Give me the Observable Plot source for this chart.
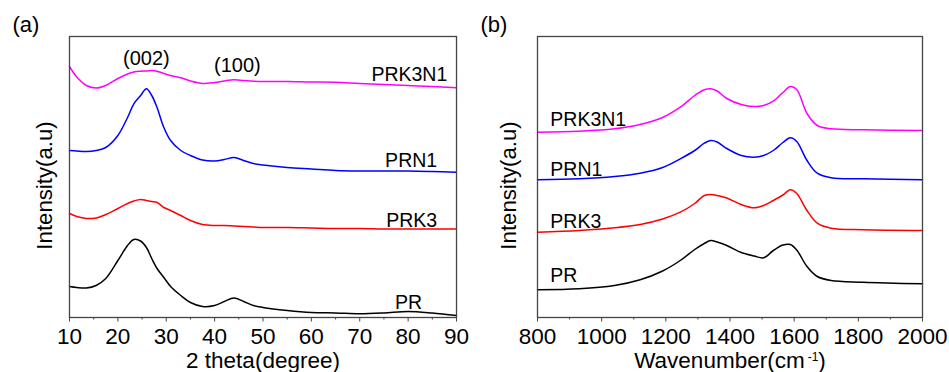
<!DOCTYPE html>
<html>
<head>
<meta charset="utf-8">
<script src="https://cdn.jsdelivr.net/npm/d3@7"></script>
<script src="https://cdn.jsdelivr.net/npm/@observablehq/plot@0.6"></script>
<style>
  body { margin: 0; background: #fff; }
  #wrap { display: flex; width: 949px; height: 372px; }
</style>
</head>
<body>
<div id="wrap"></div>
<script>
// ---- Panel (a): XRD ----
const xrdAngle = [10, 11.5, 13.5, 15.5, 17.5, 20, 22, 23.3, 24.7, 25.9, 27, 28.1, 29.5, 30.9, 33, 35, 37.5, 40, 42, 44, 46, 48, 50, 55, 60, 65, 70, 75, 80, 85, 90];
const xrdPR     = [31, 30, 29.5, 32, 39, 57, 72, 78, 76.5, 70, 59, 49, 40, 31, 22, 15, 11, 12, 16, 19.5, 16, 12, 10, 7, 5, 4.5, 3.7, 4.5, 6, 4.5, 2];
const xrdPRK3   = [104, 101, 99, 99.5, 103, 109, 114, 116.5, 118, 117, 116, 115, 110, 107, 102, 97, 93, 92, 92, 91.5, 91, 90.5, 90, 90, 89.5, 89, 89, 88.5, 88.5, 88.5, 88.5];
const xrdPRN1   = [167, 166.5, 166, 167, 170, 182, 200, 213.7, 222, 228.7, 222, 210, 190, 177, 167, 162, 157.5, 156.5, 158, 160, 157, 154, 152.5, 150, 148.5, 147, 146.5, 146.5, 146.5, 146, 145.3];
const xrdPRK3N1 = [251, 240.5, 232, 229.5, 232, 239, 243.5, 245.5, 246.3, 246.5, 247, 246.3, 244, 242, 239.7, 236.5, 234, 235, 236.5, 237.7, 237, 236.3, 236, 236, 235.5, 235.3, 234, 233, 232, 231, 229.7];
const xrdMajorTicks = [10, 20, 30, 40, 50, 60, 70, 80, 90];
const xrdMinorTicks = [15, 25, 35, 45, 55, 65, 75, 85];
const xrdLabelNames = ["PRK3N1", "PRN1", "PRK3", "PR"];
const xrdLabelX = [88.1, 86.0, 86.0, 82.9];
const xrdLabelY = [237, 151, 91, 9];
const peakNames = ["(002)", "(100)"];
const peakX = [25.9, 44.7];
const peakY = [253, 246];

// ---- Panel (b): Raman ----
const ramanShift  = [800, 930, 1040, 1120, 1190, 1245, 1290, 1320, 1340, 1360, 1390, 1435, 1475, 1505, 1535, 1565, 1588, 1608, 1640, 1672, 1715, 1815, 2000];
const ramanPR     = [27.7, 28.7, 32, 37.7, 46.5, 57, 68, 74, 77, 75.5, 72, 65, 61.5, 59.7, 67, 72.5, 73, 67.5, 51, 41, 37, 35.3, 33.7];
const ramanPRK3   = [85.3, 87, 89.7, 93, 98.5, 105.3, 114, 122, 123, 122, 119.5, 113, 109.7, 112, 117, 122.5, 127.7, 124, 107, 94.3, 89.3, 87.7, 87];
const ramanPRN1   = [137.7, 138.7, 141, 144.3, 150, 158.7, 167, 174.3, 177, 175.5, 169, 162, 160.3, 162, 167, 175, 179.7, 176, 157, 144.3, 139.7, 138.7, 137.7];
const ramanPRK3N1 = [185.3, 186.3, 188.7, 193, 200, 210.3, 222, 227.7, 228.7, 226.5, 219, 213, 211, 212, 216.3, 225, 231, 228, 204, 192, 188.7, 187.7, 187];
const ramanMajorTicks = [800, 1000, 1200, 1400, 1600, 1800, 2000];
const ramanMinorTicks = [900, 1100, 1300, 1500, 1700, 1900];
const ramanLabelNames = ["PRK3N1", "PRN1", "PRK3", "PR"];
const ramanLabelX = [840, 840, 840, 840];
const ramanLabelY = [192, 142, 89.3, 36];

const seriesNames = ["PR", "PRK3", "PRN1", "PRK3N1"];
const seriesColors = ["#000000", "#ff0000", "#0000ff", "#ff00ff"];

function longForm(xs, ys, names) {
  const out = [];
  names.forEach((n, i) => xs.forEach((x, j) => out.push({name: n, x, y: ys[i][j]})));
  return out;
}
const xrdData = longForm(xrdAngle, [xrdPR, xrdPRK3, xrdPRN1, xrdPRK3N1], seriesNames);
const ramanData = longForm(ramanShift, [ramanPR, ramanPRK3, ramanPRN1, ramanPRK3N1], seriesNames);
const xrdLabels = xrdLabelNames.map((t, i) => ({t, x: xrdLabelX[i], y: xrdLabelY[i]}));
const peakLabels = peakNames.map((t, i) => ({t, x: peakX[i], y: peakY[i]}));
const ramanLabels = ramanLabelNames.map((t, i) => ({t, x: ramanLabelX[i], y: ramanLabelY[i]}));

const FONT = "'Liberation Sans', Arial, sans-serif";
const frameColor = "#444";

function panel({width, marginLeft, marginRight, xDomain, data, major, minor, labels, labelAnchor, extra, xTitle, yDx, tag, tagDx}) {
  return Plot.plot({
    width, height: 372,
    marginLeft, marginRight, marginTop: 36, marginBottom: 55,
    style: {fontFamily: FONT, fontSize: "21px", background: "white", color: "black"},
    x: {domain: xDomain},
    y: {domain: [0, 281], axis: null},
    color: {domain: seriesNames, range: seriesColors},
    marks: [
      Plot.line(data, {x: "x", y: "y", z: "name", stroke: "name", strokeWidth: 1.5, curve: "catmull-rom"}),
      Plot.frame({stroke: frameColor, strokeWidth: 1.3}),
      Plot.axisX({ticks: minor, tickSize: 2.5, tickFormat: () => "", stroke: frameColor, label: null}),
      Plot.axisX({ticks: major, tickSize: 4.5, tickPadding: 6.5, tickFormat: d => String(d), stroke: frameColor, fill: "black", fontSize: 22.5, label: null}),
      Plot.text(labels, {x: "x", y: "y", text: "t", textAnchor: labelAnchor, lineAnchor: "bottom", fontSize: 19.5, fill: "black"}),
      ...(extra || []),
      Plot.text([xTitle], {text: d => d, frameAnchor: "bottom", dy: 50, lineAnchor: "bottom", fontSize: 22.5, fill: "black"}),
      Plot.text(["Intensity(a.u)"], {text: d => d, frameAnchor: "left", rotate: -90, dx: yDx, dy: 8.5, lineAnchor: "bottom", textAnchor: "middle", fontSize: 22.2, fill: "black"}),
      Plot.text([tag], {text: d => d, frameAnchor: "top-left", dx: tagDx, dy: -5, textAnchor: "start", lineAnchor: "bottom", fontSize: 22, fill: "black"})
    ]
  });
}

const plotA = panel({
  width: 474, marginLeft: 69, marginRight: 18, xDomain: [10, 90],
  data: xrdData, major: xrdMajorTicks, minor: xrdMinorTicks,
  labels: xrdLabels, labelAnchor: "end",
  extra: [Plot.text(peakLabels, {x: "x", y: "y", text: "t", textAnchor: "middle", lineAnchor: "bottom", fontSize: 20, fill: "black"})],
  xTitle: "2 theta(degree)", yDx: -18, tag: "(a)", tagDx: -57
});
const plotB = panel({
  width: 475, marginLeft: 63, marginRight: 27, xDomain: [800, 2000],
  data: ramanData, major: ramanMajorTicks, minor: ramanMinorTicks,
  labels: ramanLabels, labelAnchor: "start",
  xTitle: "Wavenumber(cm-1)", yDx: -22, tag: "(b)", tagDx: -57
});

// superscript for cm-1
d3.select(plotB).selectAll("text").filter(function () { return this.textContent === "Wavenumber(cm-1)"; })
  .each(function () {
    const t = d3.select(this);
    t.text(null);
    t.append("tspan").text("Wavenumber(cm");
    t.append("tspan").attr("dy", "-6.5").attr("dx", "3").attr("font-size", "12").text("-1");
    t.append("tspan").attr("dy", "6.5").text(")");
  });

const wrap = document.getElementById("wrap");
wrap.appendChild(plotA);
wrap.appendChild(plotB);
</script>
</body>
</html>
